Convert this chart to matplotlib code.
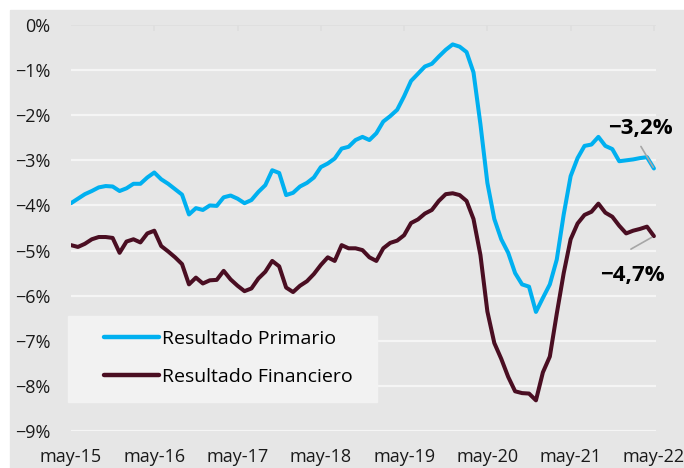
import numpy as np
import matplotlib
matplotlib.use("Agg")
import matplotlib.pyplot as plt
from matplotlib.patches import Rectangle

# monthly data, may-15 .. may-22 (% of GDP)
primario = [
    -3.95, -3.85, -3.75, -3.68, -3.60, -3.57, -3.58, -3.68, -3.62, -3.52,
    -3.52, -3.38, -3.27, -3.42, -3.52, -3.64, -3.76, -4.20, -4.06, -4.10,
    -4.00, -4.01, -3.82, -3.78, -3.85, -3.95, -3.88, -3.70, -3.55, -3.22,
    -3.28, -3.77, -3.72, -3.58, -3.50, -3.38, -3.15, -3.07, -2.96, -2.74,
    -2.70, -2.55, -2.48, -2.55, -2.40, -2.14, -2.02, -1.88, -1.58, -1.24,
    -1.08, -0.92, -0.86, -0.70, -0.55, -0.43, -0.48, -0.60, -1.05, -2.20,
    -3.50, -4.30, -4.75, -5.05, -5.50, -5.75, -5.80, -6.36, -6.05, -5.75,
    -5.20, -4.20, -3.35, -2.95, -2.68, -2.65, -2.48, -2.68, -2.75, -3.02,
    -3.00, -2.98, -2.95, -2.93, -3.18,
]
financiero = [
    -4.88, -4.92, -4.85, -4.75, -4.70, -4.70, -4.72, -5.05, -4.80, -4.75,
    -4.82, -4.62, -4.56, -4.90, -5.02, -5.15, -5.30, -5.75, -5.60, -5.73,
    -5.66, -5.65, -5.45, -5.64, -5.78, -5.90, -5.84, -5.62, -5.47, -5.23,
    -5.35, -5.82, -5.92, -5.78, -5.68, -5.52, -5.32, -5.15, -5.23, -4.88,
    -4.95, -4.95, -4.99, -5.15, -5.23, -4.95, -4.83, -4.78, -4.66, -4.39,
    -4.31, -4.18, -4.10, -3.90, -3.75, -3.73, -3.77, -3.90, -4.30, -5.10,
    -6.35, -7.05, -7.40, -7.80, -8.12, -8.16, -8.17, -8.32, -7.70, -7.35,
    -6.40, -5.50, -4.75, -4.40, -4.21, -4.14, -3.96, -4.16, -4.25, -4.45,
    -4.62, -4.56, -4.52, -4.47, -4.68,
]
year_labels = ["may-15", "may-16", "may-17", "may-18", "may-19",
               "may-20", "may-21", "may-22"]
y_ticks = [0, -1, -2, -3, -4, -5, -6, -7, -8, -9]

blue = "#00b0f0"
maroon = "#4a0e22"
font = "Open Sans"
plt.rcParams["font.family"] = [font, "DejaVu Sans"]

fig = plt.figure(figsize=(6.84, 4.68), dpi=100)
fig.patch.set_facecolor("white")
fig.patches.append(Rectangle((10 / 684, 0), 1, 1 - 10 / 468,
                             transform=fig.transFigure, color="#e6e6e6",
                             zorder=-10))

ax = fig.add_axes([71 / 684, 1 - 431 / 468, 585 / 684, 406 / 468])
ax.set_facecolor("none")
months = np.arange(len(primario))

for v in y_ticks[1:]:
    ax.axhline(v, color="#f5f5f5", lw=1.6, zorder=1)
ax.axhline(0, color="#dedede", lw=1.2, zorder=1)
year_pos = np.arange(len(year_labels)) * 12
ax.vlines(year_pos[1:], -0.13, 0, color="#dedede", lw=1.2, zorder=1)

ax.plot(months, primario, color=blue, lw=2.9, solid_joinstyle="round",
        solid_capstyle="round", label="Resultado Primario", zorder=3)
ax.plot(months, financiero, color=maroon, lw=2.9, solid_joinstyle="round",
        solid_capstyle="round", label="Resultado Financiero", zorder=3)

ax.set_xlim(0, 84.3)
ax.set_ylim(-9, 0)
ax.set_xticks(year_pos)
ax.set_xticklabels(year_labels, fontsize=13)
ax.set_yticks(y_ticks)
ax.set_yticklabels([("−" if v < 0 else "") + f"{abs(v)}%" for v in y_ticks],
                   fontsize=13)
ax.tick_params(length=0, colors="#1a1a1a")
ax.tick_params(axis="x", pad=12)
ax.tick_params(axis="y", pad=15)
for s in ax.spines.values():
    s.set_visible(False)

# end labels with leader lines
last = len(primario) - 1
ax.annotate("", xy=(last, primario[-1]), xytext=(-13, 22),
            textcoords="offset pixels",
            arrowprops=dict(arrowstyle="-", color="#a6a6a6", lw=1.2,
                            shrinkA=0, shrinkB=1))
ax.annotate("−3,2%", xy=(last, primario[-1]), xytext=(-14, 40),
            textcoords="offset pixels", ha="center", va="center",
            fontsize=16, fontweight="bold", color="black")
ax.annotate("", xy=(last, financiero[-1]), xytext=(-23, -13),
            textcoords="offset pixels",
            arrowprops=dict(arrowstyle="-", color="#a6a6a6", lw=1.2,
                            shrinkA=0, shrinkB=2))
ax.annotate("−4,7%", xy=(last, financiero[-1]), xytext=(-22, -39),
            textcoords="offset pixels", ha="center", va="center",
            fontsize=16, fontweight="bold", color="black")

# legend box
ax.add_patch(Rectangle((68 / 684, 1 - 402 / 468), 309 / 684, 86 / 468,
                       transform=fig.transFigure, color="#f2f2f2",
                       zorder=2, clip_on=False))
leg = ax.legend(loc="center left", bbox_to_anchor=(86 / 684, 1 - 358 / 468),
                bbox_transform=fig.transFigure,
                frameon=False, fontsize=14, handlelength=2.85,
                handletextpad=0.14, labelspacing=1.05)
leg.set_zorder(4)
for line in leg.get_lines():
    line.set_linewidth(3.2)

fig.savefig("out.png", dpi=100)
